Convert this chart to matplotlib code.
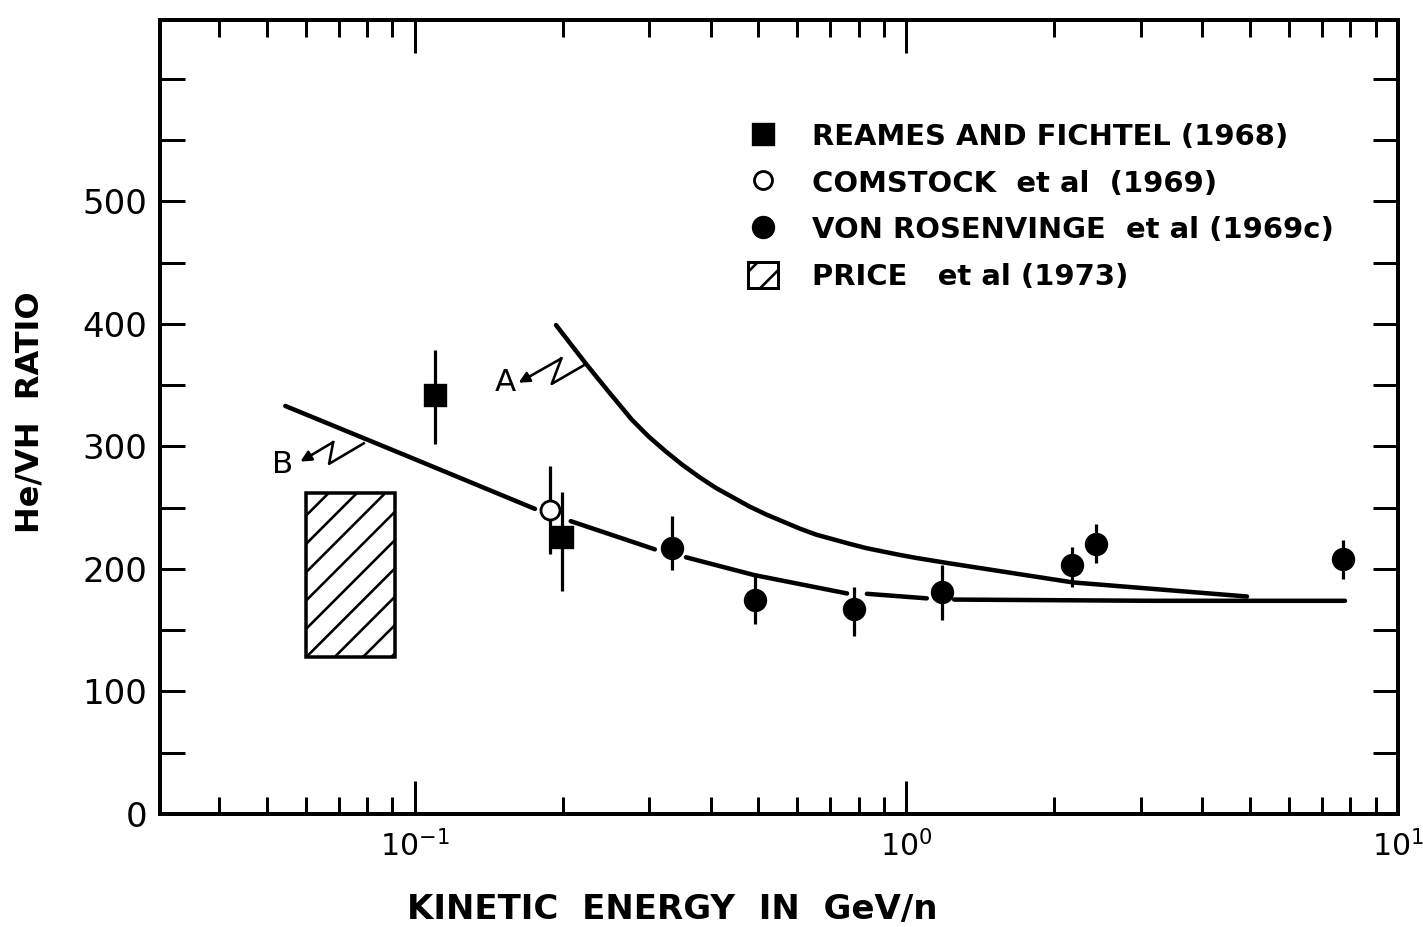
import numpy as np
import matplotlib
matplotlib.use("Agg")
import matplotlib.pyplot as plt
from matplotlib.patches import Rectangle, Patch
from matplotlib.lines import Line2D
from matplotlib.ticker import FixedLocator, MultipleLocator, NullFormatter, FixedFormatter

# ---------------- data ----------------
reames_x = [0.110, 0.199]
reames_y = [342, 226]
reames_lo = [302, 182]
reames_hi = [379, 263]

comstock_x = [0.188]
comstock_y = [248]
comstock_lo = [212]
comstock_hi = [284]

vr_x = [0.334, 0.492, 0.784, 1.18, 2.17, 2.43, 7.74]
vr_y = [217, 175, 167, 181, 203, 220, 208]
vr_lo = [199, 155, 145, 158, 185, 205, 192]
vr_hi = [243, 194, 185, 203, 218, 237, 224]

price_x = [0.060, 0.091]
price_y = [128, 262]

curveA_x = [0.1937, 0.2233, 0.2474, 0.276, 0.299, 0.3236, 0.35, 0.379, 0.41, 0.479,
            0.518, 0.606, 0.655, 0.766, 0.828, 0.967, 1.046, 1.204, 2.18, 4.93]
curveA_y = [399, 367, 345, 322, 308, 296, 285, 275, 266, 251,
            244.5, 233, 228, 220.5, 217, 211.5, 209, 205, 189, 177.5]

# curve B is drawn broken around the data points (NaN = gap)
curveB_x = [0.0545, 0.098, 0.1755, np.nan, 0.2075, 0.3077, np.nan, 0.356, 0.49, 0.757,
            np.nan, 0.831, 1.10, np.nan, 1.25, 3.16, 7.8]
curveB_y = [333, 291, 249, np.nan, 239, 216, np.nan, 209.5, 195, 180,
            np.nan, 179.7, 176, np.nan, 175, 174, 174]

# zig-zag pointers to curve labels
zigA_x = [0.2215, 0.1898, 0.1986, 0.1626]
zigA_y = [366.6, 351, 371.8, 352]
zigB_x = [0.0787, 0.0669, 0.0682, 0.0585]
zigB_y = [302.5, 285.8, 303.5, 287.6]
labA_xy = (0.1528, 352)
labB_xy = (0.0538, 285)

xtick_vals = [0.1, 1, 10]
xtick_labels = [r"$10^{-1}$", r"$10^{0}$", r"$10^{1}$"]
ytick_vals = [0, 100, 200, 300, 400, 500]
ytick_labels = ["0", "100", "200", "300", "400", "500"]

legend_labels = ["REAMES AND FICHTEL (1968)",
                 "COMSTOCK  et al  (1969)",
                 "VON ROSENVINGE  et al (1969c)",
                 "PRICE   et al (1973)"]

# ---------------- styling ----------------
DPI = 170
P = 72.0 / DPI   # points per pixel
plt.rcParams["font.family"] = ["DejaVu Sans"]
plt.rcParams["hatch.linewidth"] = 2.6 * P
plt.rcParams["mathtext.fontset"] = "dejavusans"

fig = plt.figure(figsize=(1423 / DPI, 927 / DPI), dpi=DPI)
ax = fig.add_axes([160 / 1423, 1 - 814 / 927, 1238 / 1423, 794 / 927])
ax.set_xscale("log")
ax.set_xlim(0.0303, 10)
ax.set_ylim(0, 648)

for s in ax.spines.values():
    s.set_linewidth(4 * P)

# curves
line_kw = dict(color="k", lw=4.5 * P, solid_capstyle="round", solid_joinstyle="round", zorder=2)
ax.plot(curveA_x, curveA_y, **line_kw)
ax.plot(curveB_x, curveB_y, **line_kw)

# data
eb_kw = dict(ecolor="k", elinewidth=3.2 * P, capsize=0, ls="none", zorder=3)
ax.errorbar(reames_x, reames_y,
            yerr=[np.subtract(reames_y, reames_lo), np.subtract(reames_hi, reames_y)],
            fmt="s", ms=21 * P, mfc="k", mec="k", **eb_kw)
ax.errorbar(comstock_x, comstock_y,
            yerr=[np.subtract(comstock_y, comstock_lo), np.subtract(comstock_hi, comstock_y)],
            fmt="o", ms=19 * P, mfc="white", mec="k", mew=2.8 * P, **eb_kw)
ax.errorbar(vr_x, vr_y,
            yerr=[np.subtract(vr_y, vr_lo), np.subtract(vr_hi, vr_y)],
            fmt="o", ms=21 * P, mfc="k", mec="k", **eb_kw)

ax.add_patch(Rectangle((price_x[0], price_y[0]), price_x[1] - price_x[0],
                       price_y[1] - price_y[0], fill=False, edgecolor="k",
                       hatch="//", lw=3.5 * P, zorder=2))

# A / B pointers
for zx, zy in ((zigA_x, zigA_y), (zigB_x, zigB_y)):
    ax.plot(zx[:3], zy[:3], color="k", lw=2.6 * P, zorder=2)
    ax.annotate("", xy=(zx[3], zy[3]), xytext=(zx[2], zy[2]),
                arrowprops=dict(arrowstyle="-|>", color="k", lw=2.6 * P,
                                mutation_scale=22 * P, shrinkA=0, shrinkB=0))
lab_fs = 31 * P
ax.text(*labA_xy, "A", fontsize=lab_fs, ha="center", va="center")
ax.text(*labB_xy, "B", fontsize=lab_fs, ha="center", va="center")

# ticks
ax.xaxis.set_major_locator(FixedLocator(xtick_vals))
ax.xaxis.set_major_formatter(FixedFormatter(xtick_labels))
minors = [m * 10.0 ** e for e in (-2, -1, 0) for m in range(2, 10)]
ax.xaxis.set_minor_locator(FixedLocator(minors))
ax.xaxis.set_minor_formatter(NullFormatter())
ax.yaxis.set_major_locator(FixedLocator(ytick_vals))
ax.yaxis.set_major_formatter(FixedFormatter(ytick_labels))
ax.yaxis.set_minor_locator(MultipleLocator(50))

ax.tick_params(axis="x", which="both", direction="in", top=True, bottom=True,
               width=3 * P, labelsize=30 * P, pad=16 * P)
ax.tick_params(axis="x", which="major", length=33 * P)
ax.tick_params(axis="x", which="minor", length=17 * P)
ax.tick_params(axis="y", which="both", direction="in", left=True, right=True,
               length=25 * P, width=3 * P, labelsize=34 * P, pad=13 * P)

# axis labels
ax.set_xlabel("KINETIC  ENERGY  IN  GeV/n", fontsize=34 * P, fontweight="bold")
ax.xaxis.set_label_coords((672 - 160) / 1238, (814 - 893) / 794)
ax.set_ylabel("He/VH  RATIO", fontsize=32 * P, fontweight="bold")
ax.yaxis.set_label_coords((46 - 160) / 1238, (814 - 412) / 794)

# legend
handles = [Line2D([], [], marker="s", ls="none", ms=21 * P, color="k"),
           Line2D([], [], marker="o", ls="none", ms=18 * P, mfc="white", mec="k", mew=2.8 * P),
           Line2D([], [], marker="o", ls="none", ms=21 * P, color="k"),
           Patch(facecolor="white", edgecolor="k", hatch="//", lw=3 * P)]
leg_fs_px = 29
leg = fig.legend(handles, legend_labels, loc="upper left",
                 bbox_to_anchor=(748 / 1423, 1 - 122 / 927),
                 frameon=False, borderpad=0, borderaxespad=0,
                 prop=dict(size=leg_fs_px * P, weight="bold"),
                 handlelength=30 / leg_fs_px, handleheight=30 / leg_fs_px,
                 handletextpad=34 / leg_fs_px, labelspacing=0.6)

fig.savefig("out.png", dpi=DPI)
